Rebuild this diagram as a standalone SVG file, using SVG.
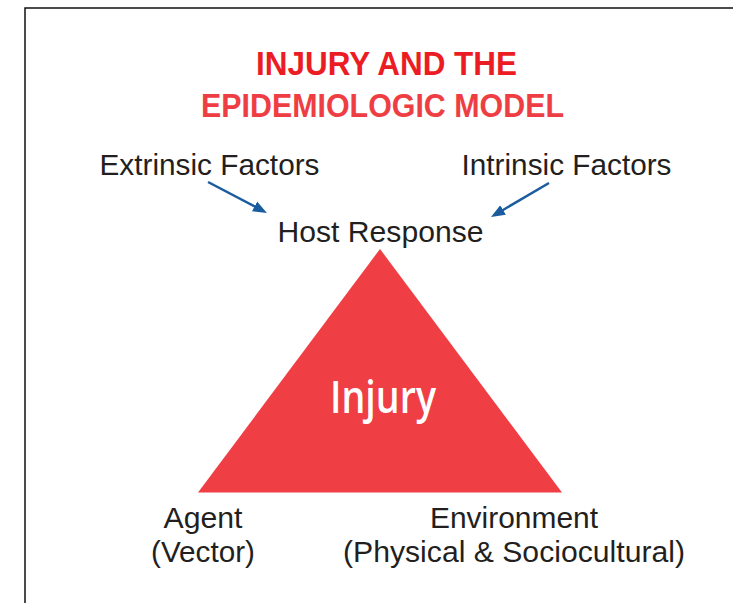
<svg xmlns="http://www.w3.org/2000/svg" width="733" height="603" viewBox="0 0 733 603">
<style>
.t{font-family:"Liberation Sans",Arial,sans-serif;font-size:30.2px;fill:#231f20;text-anchor:middle}
.title{font-family:"Liberation Sans",Arial,sans-serif;font-weight:bold;font-size:32.5px;text-anchor:middle}
.arr{stroke:#1a5c9e;stroke-width:2.5;fill:none;marker-end:url(#ah)}
</style>
<defs>
<marker id="ah" markerUnits="userSpaceOnUse" markerWidth="15" markerHeight="12" refX="4" refY="6" orient="auto">
<path d="M0,0.5 L14,6 L0,11.5 z" fill="#1a5c9e"/>
</marker>
</defs>
<rect width="733" height="603" fill="#fff"/>
<path d="M25,603 V8 H733" fill="none" stroke="#111" stroke-width="1.5"/>
<g id="title">
<text class="title" x="386.5" y="75" fill="#ec1c24" textLength="261" lengthAdjust="spacingAndGlyphs">INJURY AND THE</text>
<text class="title" x="382.5" y="117" fill="#ef3e43" textLength="363" lengthAdjust="spacingAndGlyphs">EPIDEMIOLOGIC MODEL</text>
</g>
<g id="extrinsic"><text class="t" x="209.5" y="175" textLength="220" lengthAdjust="spacingAndGlyphs">Extrinsic Factors</text></g>
<g id="intrinsic"><text class="t" x="566.5" y="175" textLength="210" lengthAdjust="spacingAndGlyphs">Intrinsic Factors</text></g>
<g id="host"><text class="t" x="380.5" y="242" textLength="206" lengthAdjust="spacingAndGlyphs">Host Response</text></g>
<g id="injury">
<polygon points="380,249 562,492.5 198,492.5" fill="#ef3e44"/>
<text x="383" y="413" font-family="'Open Sans','Liberation Sans',Arial,sans-serif" font-weight="600" font-size="46" fill="#fff" text-anchor="middle" textLength="106" lengthAdjust="spacingAndGlyphs">Injury</text>
</g>
<g id="agent">
<text class="t" x="203" y="528" textLength="79" lengthAdjust="spacingAndGlyphs">Agent</text>
<text class="t" x="203" y="562" textLength="104" lengthAdjust="spacingAndGlyphs">(Vector)</text>
</g>
<g id="environment">
<text class="t" x="514" y="528" textLength="168" lengthAdjust="spacingAndGlyphs">Environment</text>
<text class="t" x="514" y="562" textLength="342" lengthAdjust="spacingAndGlyphs">(Physical &amp; Sociocultural)</text>
</g>
<g id="connectors">
<line class="arr" x1="208" y1="182" x2="258.1" y2="208.3"/>
<line class="arr" x1="549" y1="183" x2="499.6" y2="212"/>
</g>
</svg>
